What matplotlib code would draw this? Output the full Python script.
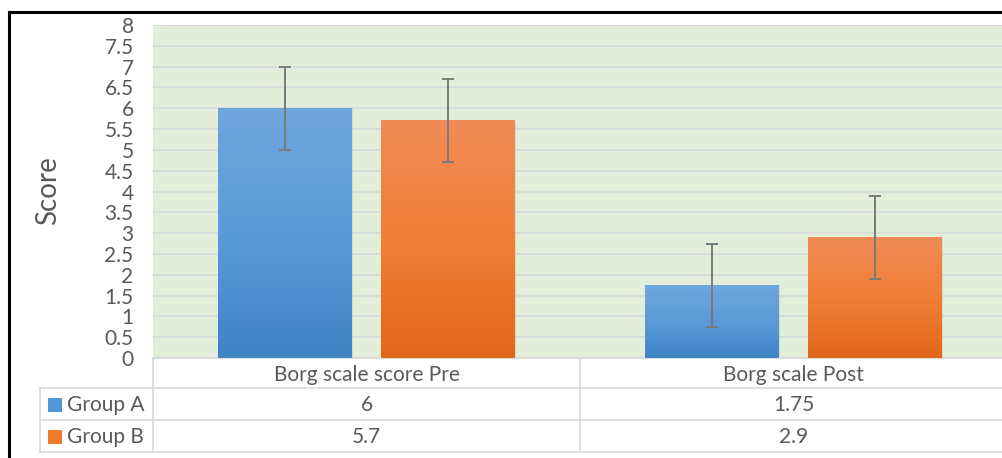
#!/usr/bin/env python3
import matplotlib

matplotlib.use("Agg")
import matplotlib.pyplot as plt
import numpy as np
from matplotlib.colors import LinearSegmentedColormap
from matplotlib.lines import Line2D
from matplotlib.patches import Rectangle

categories = ["Borg scale score Pre", "Borg scale Post"]
series_names = ["Group A", "Group B"]
group_a = [6, 1.75]
group_b = [5.7, 2.9]
err_a = [1, 1]
err_b = [1, 1]
value_labels_a = ["6", "1.75"]
value_labels_b = ["5.7", "2.9"]
y_ticks = [0, 0.5, 1, 1.5, 2, 2.5, 3, 3.5, 4, 4.5, 5, 5.5, 6, 6.5, 7, 7.5, 8]

W, H = 1003, 458
TEXT = "#595959"
GRID = "#d9d9d9"
FS = 15
plt.rcParams["font.family"] = ["Lato", "DejaVu Sans"]

fig = plt.figure(figsize=(W / 100, H / 100), dpi=100)


def fx(px):
    return px / W


def fy(py):
    return 1 - py / H


# plot area in pixel coordinates
left, right, top, bottom = 153, 1003, 25, 358
ax = fig.add_axes([fx(left), fy(bottom), fx(right - left), fy(top) - fy(bottom)])
ax.set_facecolor("#e2eed9")
cat_px = 427.0
ax.set_yticks(y_ticks)
ax.set_yticklabels([f"{t:g}" for t in y_ticks], fontsize=FS, color=TEXT)
ax.tick_params(axis="y", length=0, pad=14)
ax.set_xticks([])
ax.grid(axis="y", color=GRID, linewidth=1.2)
ax.set_axisbelow(True)
for side in ["top", "right", "left"]:
    ax.spines[side].set_visible(False)
ax.spines["bottom"].set_color(GRID)
ax.set_ylabel("Score", fontsize=20, color=TEXT, va="center")
ax.yaxis.set_label_coords((48 - left) / (right - left), (bottom - 191) / (bottom - top))

x = np.arange(len(categories))
offset = 81.5 / cat_px
width = 134 / cat_px
cmaps = [
    LinearSegmentedColormap.from_list("blue", ["#3f83c5", "#5b9bd8", "#6fa6dd"]),
    LinearSegmentedColormap.from_list("orange", ["#e2661a", "#f17f36", "#f08b57"]),
]
grad = np.linspace(0, 1, 256).reshape(-1, 1)
for i, (vals, errs) in enumerate([(group_a, err_a), (group_b, err_b)]):
    pos = x + (i * 2 - 1) * offset
    bars = ax.bar(pos, vals, width, color="none", zorder=2)
    for b in bars:
        bx, bw, bh = b.get_x(), b.get_width(), b.get_height()
        # soft shadow
        ax.add_patch(Rectangle((bx + 0.003, 0), bw, bh - 0.02, color="#000000",
                               alpha=0.07, zorder=1.5, lw=0))
        ax.imshow(grad, extent=[bx, bx + bw, 0, bh], origin="lower", aspect="auto",
                  cmap=cmaps[i], zorder=2.5)
    ax.errorbar(pos, vals, yerr=errs, fmt="none", ecolor="#7a7a7a", elinewidth=1.4,
                capsize=4.5, capthick=1.4, zorder=3)
ax.set_xlim(-0.5, -0.5 + (right - left) / cat_px)
ax.set_ylim(0, 8)


def hline(y, x0, x1):
    fig.add_artist(Line2D([fx(x0), fx(x1)], [fy(y), fy(y)], color=GRID, lw=1.2))


def vline(xp, y0, y1):
    fig.add_artist(Line2D([fx(xp), fx(xp)], [fy(y0), fy(y1)], color=GRID, lw=1.2))


# data table under the chart
hline(388, 40, W)
hline(420, 40, W)
hline(452, 40, W)
vline(40, 388, 452)
vline(153, 358, 452)
vline(580, 358, 452)

col_centers = [left + cat_px * (k + 0.5) for k in range(len(categories))]
for k, cat in enumerate(categories):
    fig.text(fx(col_centers[k]), fy(375), cat, ha="center", va="center", fontsize=FS, color=TEXT)
    fig.text(fx(col_centers[k]), fy(405), value_labels_a[k], ha="center", va="center", fontsize=FS, color=TEXT)
    fig.text(fx(col_centers[k]), fy(437), value_labels_b[k], ha="center", va="center", fontsize=FS, color=TEXT)

key_colors = ["#5196d6", "#ee7a2e"]
for r, name in enumerate(series_names):
    yc = 405 + 32 * r
    fig.add_artist(Rectangle((fx(48), fy(yc + 7)), fx(14), fy(yc - 7) - fy(yc + 7),
                             color=key_colors[r], lw=0))
    fig.text(fx(67), fy(yc), name, ha="left", va="center", fontsize=FS, color=TEXT)

# black frame
fig.add_artist(Line2D([fx(9), fx(9)], [fy(12), 0], color="black", lw=2.2))
fig.add_artist(Line2D([fx(9), 1], [fy(12), fy(12)], color="black", lw=2.2))

fig.savefig("out.png", dpi=100)
